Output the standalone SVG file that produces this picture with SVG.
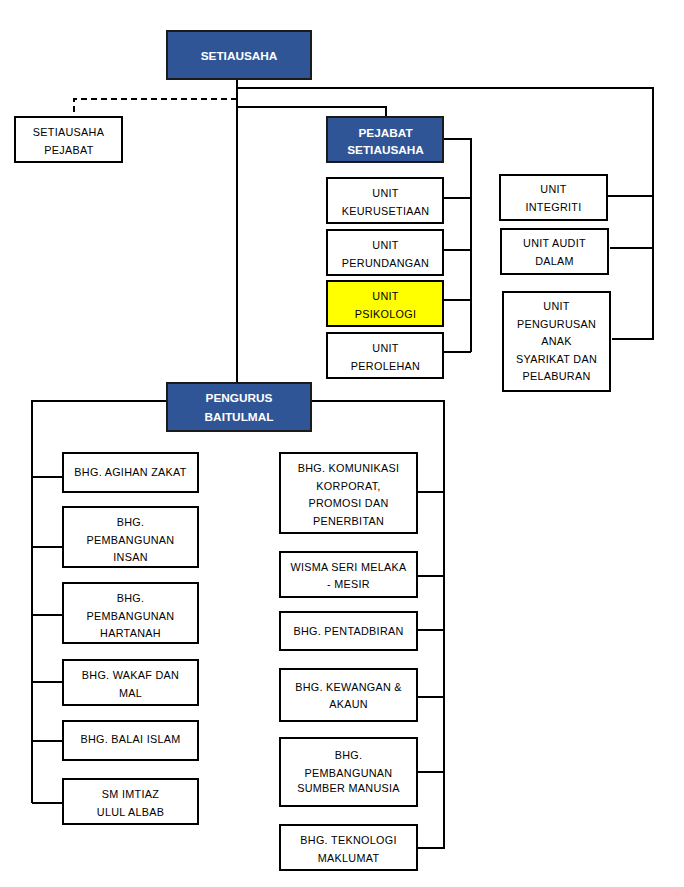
<svg xmlns="http://www.w3.org/2000/svg" width="684" height="887" viewBox="0 0 684 887">
<style>
.bx{fill:#ffffff;stroke:#000000;stroke-width:2}
.bl{fill:#2F5597;stroke:#1a1a1a;stroke-width:2}
.yl{fill:#FFFF00;stroke:#000000;stroke-width:2}
.t{font-family:"Liberation Sans",Arial,sans-serif;font-size:10.8px;fill:#000000;text-anchor:middle;letter-spacing:0.3px}
.tw{font-family:"Liberation Sans",Arial,sans-serif;font-size:11.8px;font-weight:bold;fill:#ffffff;text-anchor:middle}
.c{fill:none;stroke:#000000;stroke-width:2}
.d{fill:none;stroke:#000000;stroke-width:2;stroke-dasharray:6,4}
</style>
<rect width="684" height="887" fill="#ffffff"/>
<g id="connectors">
<path class="c" d="M237 79 V383"/>
<path class="c" d="M237 88 H653 V340"/>
<path class="c" d="M237 107 H386 V117"/>
<path class="d" d="M237 99 H74 V117"/>
<path class="c" d="M443 139 H471 V352"/>
<path class="c" d="M443 198 H471 M443 250 H471 M443 300 H471 M443 352 H471"/>
<path class="c" d="M607 196 H653 M610 248 H653 M612 339 H653"/>
<path class="c" d="M167 401 H32 V803"/>
<path class="c" d="M311 401 H444 V849"/>
<path class="c" d="M32 477 H63 M32 547 H63 M32 615 H63 M32 682 H63 M32 741 H63 M32 803 H63"/>
<path class="c" d="M417 492 H444 M417 576 H444 M417 630 H444 M417 697 H444 M417 772 H444 M417 848 H444"/>
</g>
<g id="setiausaha"><rect class="bl" x="167" y="31" width="144" height="48"/><text class="tw" x="239" y="59.5">SETIAUSAHA</text></g>
<g id="setiausaha-pejabat"><rect class="bx" x="15" y="117" width="107" height="45"/><text class="t" x="68.5" y="135.8">SETIAUSAHA</text><text class="t" x="69" y="153.5">PEJABAT</text></g>
<g id="pejabat-setiausaha"><rect class="bl" x="327" y="117" width="116" height="45"/><text class="tw" x="385.5" y="136.5">PEJABAT</text><text class="tw" x="385.5" y="154.2">SETIAUSAHA</text></g>
<g id="unit-keurusetiaan"><rect class="bx" x="327" y="178" width="116" height="45"/><text class="t" x="385.5" y="196.5">UNIT</text><text class="t" x="385.5" y="214.5">KEURUSETIAAN</text></g>
<g id="unit-perundangan"><rect class="bx" x="327" y="230" width="116" height="45"/><text class="t" x="385.5" y="248.8">UNIT</text><text class="t" x="385.5" y="266.8">PERUNDANGAN</text></g>
<g id="unit-psikologi"><rect class="yl" x="327" y="281" width="116" height="45"/><text class="t" x="385.5" y="299.8">UNIT</text><text class="t" x="385.5" y="317.8">PSIKOLOGI</text></g>
<g id="unit-perolehan"><rect class="bx" x="327" y="333" width="116" height="45"/><text class="t" x="385.5" y="351.5">UNIT</text><text class="t" x="385.5" y="369.5">PEROLEHAN</text></g>
<g id="unit-integriti"><rect class="bx" x="500" y="175" width="107" height="45"/><text class="t" x="553.5" y="192.8">UNIT</text><text class="t" x="553.5" y="210.5">INTEGRITI</text></g>
<g id="unit-audit-dalam"><rect class="bx" x="501" y="229" width="107" height="45"/><text class="t" x="554.5" y="246.8">UNIT  AUDIT</text><text class="t" x="554.5" y="264.8">DALAM</text></g>
<g id="unit-pengurusan"><rect class="bx" x="503" y="292" width="107" height="99"/><text class="t" x="556.5" y="309.8">UNIT</text><text class="t" x="556.5" y="327.8">PENGURUSAN</text><text class="t" x="556.5" y="344.8">ANAK</text><text class="t" x="556.5" y="362.8">SYARIKAT DAN</text><text class="t" x="556.5" y="379.5">PELABURAN</text></g>
<g id="pengurus-baitulmal"><rect class="bl" x="167" y="383" width="144" height="48"/><text class="tw" x="239" y="401.5">PENGURUS</text><text class="tw" x="239" y="420.5">BAITULMAL</text></g>
<g id="bhg-agihan-zakat"><rect class="bx" x="63" y="453" width="135" height="39"/><text class="t" x="130.5" y="475.5">BHG. AGIHAN ZAKAT</text></g>
<g id="bhg-pembangunan-insan"><rect class="bx" x="63" y="507" width="135" height="60"/><text class="t" x="130.5" y="526">BHG.</text><text class="t" x="130.5" y="543.8">PEMBANGUNAN</text><text class="t" x="130.5" y="561">INSAN</text></g>
<g id="bhg-pembangunan-hartanah"><rect class="bx" x="63" y="583" width="135" height="60"/><text class="t" x="130.5" y="602">BHG.</text><text class="t" x="130.5" y="619.8">PEMBANGUNAN</text><text class="t" x="130.5" y="636.5">HARTANAH</text></g>
<g id="bhg-wakaf-dan-mal"><rect class="bx" x="63" y="660" width="135" height="45"/><text class="t" x="130.5" y="678.8">BHG. WAKAF DAN</text><text class="t" x="130.5" y="696.5">MAL</text></g>
<g id="bhg-balai-islam"><rect class="bx" x="63" y="721" width="135" height="39"/><text class="t" x="130.5" y="743">BHG. BALAI ISLAM</text></g>
<g id="sm-imtiaz"><rect class="bx" x="63" y="779" width="135" height="45"/><text class="t" x="130.5" y="797.8">SM IMTIAZ</text><text class="t" x="130.5" y="816">ULUL ALBAB</text></g>
<g id="bhg-komunikasi"><rect class="bx" x="280" y="453" width="137" height="80"/><text class="t" x="348.5" y="471.5">BHG. KOMUNIKASI</text><text class="t" x="348.5" y="489.8">KORPORAT,</text><text class="t" x="348.5" y="507">PROMOSI DAN</text><text class="t" x="348.5" y="524.8">PENERBITAN</text></g>
<g id="wisma-seri-melaka"><rect class="bx" x="280" y="552" width="137" height="45"/><text class="t" x="348.5" y="570.8">WISMA SERI MELAKA</text><text class="t" x="348.5" y="587.8">- MESIR</text></g>
<g id="bhg-pentadbiran"><rect class="bx" x="280" y="612" width="137" height="38"/><text class="t" x="348.5" y="634.8">BHG. PENTADBIRAN</text></g>
<g id="bhg-kewangan"><rect class="bx" x="280" y="669" width="137" height="52"/><text class="t" x="348.5" y="690.8">BHG. KEWANGAN &amp;</text><text class="t" x="348.5" y="707.8">AKAUN</text></g>
<g id="bhg-psm"><rect class="bx" x="280" y="738" width="137" height="68"/><text class="t" x="348.5" y="759">BHG.</text><text class="t" x="348.5" y="777">PEMBANGUNAN</text><text class="t" x="348.5" y="791.5">SUMBER MANUSIA</text></g>
<g id="bhg-teknologi"><rect class="bx" x="280" y="825" width="137" height="45"/><text class="t" x="348.5" y="843.8">BHG. TEKNOLOGI</text><text class="t" x="348.5" y="861.5">MAKLUMAT</text></g>
</svg>
